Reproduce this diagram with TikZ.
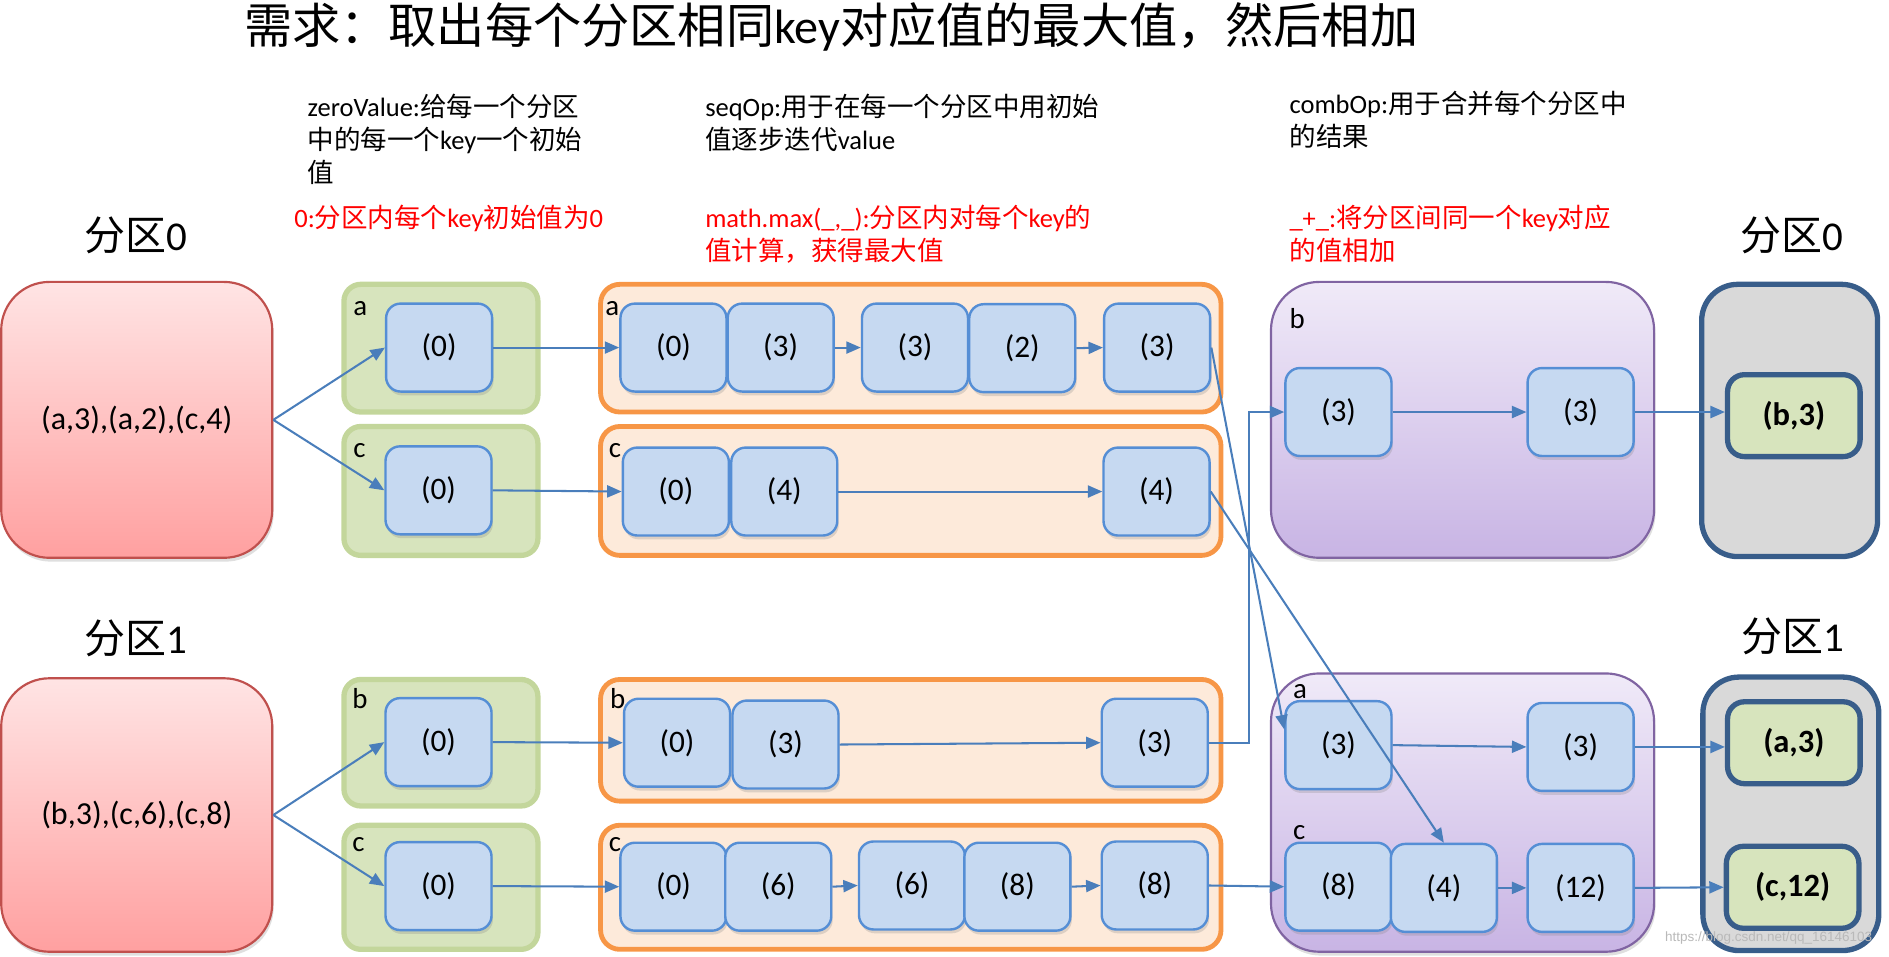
\documentclass[tikz,border=0pt]{standalone}
\usepackage{fontspec}
\setmainfont{Carlito}
\newfontfamily\cjk{Noto Sans CJK SC}
\newfontfamily\wmfont{Liberation Sans}
\usetikzlibrary{arrows.meta,shadows}
\newcommand\zh[1]{{\cjk #1}}
\definecolor{arrowc}{RGB}{74,126,187}
\definecolor{blueF}{RGB}{198,217,241}
\definecolor{blueD}{RGB}{85,142,213}
\definecolor{greenF}{RGB}{215,228,189}
\definecolor{greenD}{RGB}{195,214,155}
\definecolor{orangeF}{RGB}{253,234,218}
\definecolor{orangeD}{RGB}{247,150,70}
\definecolor{redT}{RGB}{255,228,228}
\definecolor{redB}{RGB}{255,160,160}
\definecolor{redD}{RGB}{192,80,77}
\definecolor{purT}{RGB}{240,234,248}
\definecolor{purB}{RGB}{200,180,228}
\definecolor{purD}{RGB}{128,100,162}
\definecolor{grayF}{RGB}{217,217,217}
\definecolor{navy}{RGB}{56,93,138}
\definecolor{redtxt}{RGB}{255,0,0}
\tikzset{
  shad/.style={drop shadow={opacity=0.25,shadow xshift=0.6pt,shadow yshift=-1.6pt}},
  bluenode/.style={rounded corners=6pt,draw=blueD,line width=1pt,fill=blueF,
    minimum width=44pt,minimum height=36.5pt,inner sep=0pt,
    font=\fontsize{13pt}{15pt}\selectfont,shad},
  resnode/.style={rounded corners=7pt,draw=navy,line width=2.2pt,fill=greenF,
    minimum width=55pt,minimum height=34pt,inner sep=0pt,
    font=\fontsize{13.5pt}{15pt}\selectfont\bfseries},
  redbox/.style={rounded corners=20pt,draw=redD,line width=0.9pt,top color=redT,bottom color=redB,
    minimum width=112.5pt,inner sep=0pt,font=\fontsize{13.3pt}{15pt}\selectfont,shad},
  greenbox/.style={rounded corners=7pt,draw=greenD,line width=2.2pt,fill=greenF,
    minimum width=80.5pt,inner sep=0pt},
  orangebox/.style={rounded corners=8pt,draw=orangeD,line width=2pt,fill=orangeF,
    minimum width=257.5pt,inner sep=0pt},
  purplebox/.style={rounded corners=20pt,draw=purD,line width=0.9pt,top color=purT,bottom color=purB,
    minimum width=159pt,inner sep=0pt,shad},
  graybox/.style={rounded corners=15pt,draw=navy,line width=2.2pt,fill=grayF,
    minimum width=73pt,inner sep=0pt},
  lbl/.style={anchor=base west,inner sep=0pt,font=\fontsize{12pt}{14pt}\selectfont},
  desc/.style={anchor=north west,inner sep=0pt,align=left,font=\fontsize{11pt}{13.6pt}\selectfont},
  reddesc/.style={desc,text=redtxt},
  part/.style={inner sep=0pt,font=\fontsize{17pt}{20pt}\selectfont},
  arr/.style={draw=arrowc,line width=0.85pt,-{Triangle[length=6pt,width=5pt]}},
}
\begin{document}
\begin{tikzpicture}[x=0.5pt,y=-0.5pt]
\useasboundingbox (0,0) rectangle (1568,794);

% title and descriptions
\node[inner sep=0pt,font=\fontsize{20pt}{24pt}\selectfont] (title) at (690,22) {\zh{需求：取出每个分区相同}key\zh{对应值的最大值，然后相加}};
\node[desc] (d1) at (255,78) {zeroValue:\zh{给每一个分区}\\\zh{中的每一个}key\zh{一个初始}\\\zh{值}};
\node[desc] (d2) at (585,78) {seqOp:\zh{用于在每一个分区中用初始}\\\zh{值逐步迭代}value};
\node[desc] (d3) at (1070,75) {combOp:\zh{用于合并每个分区中}\\\zh{的结果}};
\node[reddesc] (r1) at (244,170) {0:\zh{分区内每个}key\zh{初始值为}0};
\node[reddesc] (r2) at (585,170) {math.max(\_,\_):\zh{分区内对每个}key\zh{的}\\\zh{值计算，获得最大值}};
\node[reddesc] (r3) at (1070,170) {\_+\_:\zh{将分区间同一个}key\zh{对应}\\\zh{的值相加}};

\node[part] (pl0) at (113,195) {\zh{分区}0};
\node[part] (pr0) at (1487,195) {\zh{分区}0};
\node[part] (pl1) at (113,530) {\zh{分区}1};
\node[part] (pr1) at (1488,528) {\zh{分区}1};

% input partitions
\node[redbox,minimum height=114.5pt] (in0) at (113.5,348.5) {(a,3),(a,2),(c,4)};
\node[redbox,minimum height=113.5pt] (in1) at (113.5,676.5) {(b,3),(c,6),(c,8)};

% green containers
\node[greenbox,minimum height=53pt] (ga) at (366,289) {};
\node[greenbox,minimum height=53.5pt] (gc) at (366,407.5) {};
\node[greenbox,minimum height=52.5pt] (gb1) at (366,616.5) {};
\node[greenbox,minimum height=51.5pt] (gc1) at (366,736.5) {};
\node[lbl] (lga) at (293,262) {a};
\node[lbl] (lgc) at (293,380) {c};
\node[lbl] (lgb1) at (292,588) {b};
\node[lbl] (lgc1) at (292,707) {c};

% orange containers
\node[orangebox,minimum height=53pt] (oa) at (756,289) {};
\node[orangebox,minimum height=53.5pt] (oc) at (756,407.5) {};
\node[orangebox,minimum height=50.5pt] (ob1) at (756,614.5) {};
\node[orangebox,minimum height=51.5pt] (oc1) at (756,736.5) {};
\node[lbl] (loa) at (502,262) {a};
\node[lbl] (loc) at (505,380) {c};
\node[lbl] (lob1) at (506,588) {b};
\node[lbl] (loc1) at (505,707) {c};

% purple containers
\node[purplebox,minimum height=114.5pt] (pu0) at (1214,348.5) {};
\node[purplebox,minimum height=115.5pt] (pu1) at (1214,674.5) {};
\node[lbl] (lpb) at (1070,273) {b};
\node[lbl] (lpa) at (1073,580) {a};
\node[lbl] (lpc) at (1073,697) {c};

% gray result containers
\node[graybox,minimum height=113pt] (gr0) at (1485.5,349) {};
\node[graybox,minimum height=113.5pt] (gr1) at (1486.5,675.5) {};

% zero value nodes
\node[bluenode] (g0a) at (364.5,288.5) {(0)};
\node[bluenode] (g0c) at (364,407) {(0)};
\node[bluenode] (g1b) at (364,616) {(0)};
\node[bluenode] (g1c) at (364,735.5) {(0)};

% seqOp nodes
\node[bluenode] (o0a1) at (559,288.5) {(0)};
\node[bluenode] (o0a2) at (648,288.5) {(3)};
\node[bluenode] (o0a3) at (759.5,288.5) {(3)};
\node[bluenode] (o0a4) at (848.5,289) {(2)};
\node[bluenode] (o0a5) at (960.5,288.5) {(3)};
\node[bluenode] (o0c1) at (561,408) {(0)};
\node[bluenode] (o0c2) at (651,408) {(4)};
\node[bluenode] (o0c3) at (960,408) {(4)};
\node[bluenode] (o1b1) at (562,616.5) {(0)};
\node[bluenode] (o1b2) at (652,618) {(3)};
\node[bluenode] (o1b3) at (958.5,616.5) {(3)};
\node[bluenode] (o1c1) at (559,736) {(0)};
\node[bluenode] (o1c2) at (646,736) {(6)};
\node[bluenode] (o1c3) at (757,735) {(6)};
\node[bluenode] (o1c4) at (844.5,736) {(8)};
\node[bluenode] (o1c5) at (958.5,735) {(8)};

% combOp nodes
\node[bluenode] (p0b1) at (1111,342) {(3)};
\node[bluenode] (p0b2) at (1312,342) {(3)};
\node[bluenode] (p1a1) at (1111,618.5) {(3)};
\node[bluenode] (p1a2) at (1312,620) {(3)};
\node[bluenode] (p1c1) at (1111,736) {(8)};
\node[bluenode] (p1c2) at (1198.5,737) {(4)};
\node[bluenode] (p1c3) at (1312,737) {(12)};

% results
\node[resnode] (res0) at (1489,345) {(b,3)};
\node[resnode] (res1a) at (1489,616.5) {(a,3)};
\node[resnode] (res1c) at (1488,736.5) {(c,12)};

% watermark
\node[inner sep=0pt,text=gray!55,font=\wmfont\fontsize{5.6pt}{7pt}\selectfont] (wm) at (1468,779) {https://blog.csdn.net/qq\_16146103};

% connectors
\draw[arr] (in0.east) -- (g0a.west);
\draw[arr] (in0.east) -- (g0c.west);
\draw[arr] (in1.east) -- (g1b.west);
\draw[arr] (in1.east) -- (g1c.west);
\draw[arr] (g0a.east) -- (o0a1.west);
\draw[arr] (g0c.east) -- (o0c1.west);
\draw[arr] (g1b.east) -- (o1b1.west);
\draw[arr] (g1c.east) -- (o1c1.west);
\draw[arr] (o0a2.east) -- (o0a3.west);
\draw[arr] (o0a4.east) -- (o0a5.west);
\draw[arr] (o0c2.east) -- (o0c3.west);
\draw[arr] (o1b2.east) -- (o1b3.west);
\draw[arr] (o1c2.east) -- (o1c3.west);
\draw[arr] (o1c4.east) -- (o1c5.west);
\draw[arr] (o0a5.east) -- ([yshift=6.5pt]p1a1.west);
\draw[arr] (o0c3.east) -- (p1c2.north);
\draw[arr] (o1b3.east) -- ++(16.5pt,0) |- (p0b1.west);
\draw[arr] (o1c5.east) -- (p1c1.west);
\draw[arr] (p0b1.east) -- (p0b2.west);
\draw[arr] (p0b2.east) -- (p0b2.east -| res0.west);
\draw[arr] (p1a1.east) -- (p1a2.west);
\draw[arr] (p1a2.east) -- (p1a2.east -| res1a.west);
\draw[arr] (p1c2.east) -- (p1c3.west);
\draw[arr] (p1c3.east) -- (res1c.west);
\end{tikzpicture}
\end{document}
